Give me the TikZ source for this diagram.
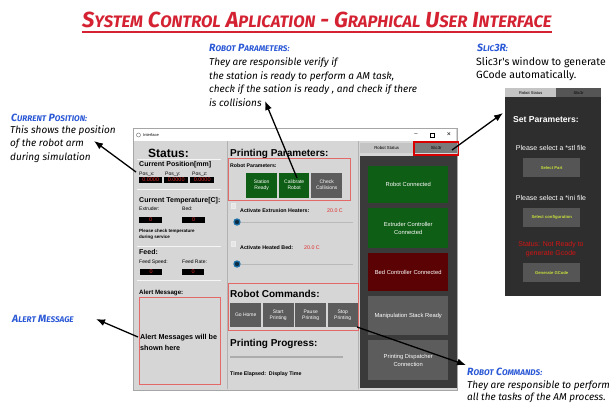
\documentclass[tikz,border=0pt]{standalone}
\usepackage{fontspec}
\setmainfont{Liberation Sans}
\newfontfamily\notefont{Fira Sans}
\usetikzlibrary{arrows.meta}

\definecolor{titlered}{HTML}{D42232}
\definecolor{noteblue}{HTML}{2A58D6}
\definecolor{winbg}{HTML}{D6D6D6}
\definecolor{darkpanel}{HTML}{3A3A3A}
\definecolor{okgreen}{HTML}{0F5E15}
\definecolor{badred}{HTML}{5A0204}
\definecolor{btngray}{HTML}{5C5C5C}
\definecolor{framered}{HTML}{E46868}
\definecolor{valred}{HTML}{E02828}
\definecolor{statusred}{HTML}{D41414}
\definecolor{lime}{HTML}{C8E03C}
\definecolor{slicebg}{HTML}{2E2E2E}
\definecolor{slicebtncol}{HTML}{555555}
\definecolor{tablight}{HTML}{C4C4C4}
\definecolor{tabdark}{HTML}{7A7A7A}
\definecolor{knobblue}{HTML}{1E6FA8}

% small caps built from two sizes
\newcommand\TitleSC[2]{{\fontsize{21.8}{21.8}\selectfont #1}{\fontsize{16.6}{16.6}\selectfont #2}}
\newcommand\NoteSC[2]{{\fontsize{10.5}{10.5}\selectfont #1}{\fontsize{8.2}{8.2}\selectfont #2}}

\tikzset{
  titletext/.style={anchor=base west, inner sep=0, text=titlered, font=\notefont\bfseries\itshape\fontsize{21.8}{21.8}\selectfont},
  notehead/.style={anchor=base west, inner sep=0, text=noteblue, font=\notefont\bfseries\itshape\fontsize{10.5}{10.5}\selectfont},
  noteline/.style={anchor=base west, inner sep=0, font=\notefont\itshape\fontsize{10}{10}\selectfont},
  noteupright/.style={anchor=base west, inner sep=0, font=\notefont\fontsize{10.5}{10.5}\selectfont},
  notearrow/.style={-{Latex[length=9pt,width=7pt]}, line width=1.3pt},
  lbl/.style={anchor=base west, inner sep=0, font=\fontsize{5}{5}\selectfont},
  lblb/.style={anchor=base west, inner sep=0, font=\bfseries\fontsize{5}{5}\selectfont},
  heading/.style={anchor=base west, inner sep=0, font=\bfseries\fontsize{10}{10}\selectfont},
  subheading/.style={anchor=base west, inner sep=0, font=\bfseries\fontsize{7}{7}\selectfont},
  valbox/.style={anchor=north west, inner sep=0, fill=black, text=valred, minimum height=6.5pt, font=\fontsize{5.5}{5.5}\selectfont},
  divline/.style={white!92!gray, line width=0.8pt},
  btn/.style={anchor=north west, inner sep=0, text=white, align=center, font=\fontsize{5}{6}\selectfont},
  bigbtn/.style={btn, minimum width=80pt, font=\fontsize{5.8}{7.5}\selectfont},
  slicebtn/.style={anchor=north west, inner sep=0, fill=slicebtncol, text=lime, minimum width=57pt, minimum height=19pt, font=\bfseries\fontsize{4.2}{5}\selectfont},
  slicetext/.style={anchor=base, inner sep=0, text=white, font=\fontsize{7}{7}\selectfont},
  redframe/.style={draw=framered, line width=0.8pt},
  chkbox/.style={draw=white!85!gray, fill=winbg!60!white, minimum size=4.5pt, inner sep=0},
  knob/.style={circle, draw=knobblue, line width=1.3pt, fill=knobblue!40!black, minimum size=6pt, inner sep=0},
  track/.style={gray!55, line width=1pt},
}

\begin{document}
\begin{tikzpicture}[x=1pt,y=-1pt]
\useasboundingbox (0,0) rectangle (615,404);
\fill[white] (0,0) rectangle (615,404);

% ---------- title ----------
\node[titletext] (title) at (82,28) {\TitleSC{S}{YSTEM} \TitleSC{C}{ONTROL} \TitleSC{A}{PLICATION} - \TitleSC{G}{RAPHICAL} \TitleSC{U}{SER} \TitleSC{I}{NTERFACE}};
\draw[titlered, line width=1.2pt] ([yshift=-4pt]title.base west) -- ([yshift=-4pt]title.base east);

% ---------- main window ----------
\node[draw=gray!70, fill=winbg, minimum width=324pt, minimum height=262pt, anchor=north west, inner sep=0] (win) at (133,128) {};
\node[fill=white, minimum width=322pt, minimum height=12pt, anchor=north west, inner sep=0] (titlebar) at (134,129) {};
\node[circle, draw=gray, line width=0.5pt, minimum size=4pt, inner sep=0] (winicon) at (138.5,135) {};
\node[lbl, font=\fontsize{4}{4}\selectfont] (wintitle) at (143,136.5) {Interface};
\node[inner sep=0, font=\fontsize{6}{6}\selectfont] (wmin) at (416,135) {\textendash};
\node[draw, line width=0.4pt, minimum size=4pt, inner sep=0] (wmax) at (432,135) {};
\node[inner sep=0, font=\fontsize{7}{7}\selectfont] (wclose) at (449,135) {×};

% panel separators
\draw[gray!60, line width=0.8pt] (227,141) -- (227,389);
\draw[gray!60, line width=0.8pt] (358,141) -- (358,389);

% ---------- status column ----------
\node[anchor=base west, inner sep=0, font=\bfseries\fontsize{12}{12}\selectfont] (status) at (148,157) {Status:};
\draw[divline] (137,159.5) -- (221,159.5);
\node[subheading] (curpos) at (139,166) {Current Position[mm]};
\node[lbl] (posxl) at (139,175) {Pos\_x:};
\node[lbl] (posyl) at (165,175) {Pos\_y:};
\node[lbl] (poszl) at (192,175) {Pos\_z:};
\node[valbox, minimum width=23pt] (posx) at (139,176.5) {0.0000};
\node[valbox, minimum width=24pt] (posy) at (164,176.5) {0.0000};
\node[valbox, minimum width=24pt] (posz) at (190,176.5) {0.0000};
\draw[divline] (137,189) -- (221,189);
\node[subheading] (curtemp) at (139,202) {Current Temperature[C]:};
\node[lbl] (extl) at (139,210.5) {Extruder:};
\node[lbl] (bedl) at (182,210.5) {Bed:};
\node[valbox, minimum width=23pt] (extv) at (139,216.5) {0};
\node[valbox, minimum width=23pt] (bedv) at (182,216.5) {0};
\node[lblb, font=\bfseries\fontsize{4.5}{4.5}\selectfont] (chk1l) at (139,232) {Please check temperature};
\node[lblb, font=\bfseries\fontsize{4.5}{4.5}\selectfont] (chk2l) at (139,238.5) {during service};
\draw[divline] (137,246) -- (221,246);
\node[subheading] (feed) at (139,254) {Feed:};
\node[lbl] (fspl) at (139,263) {Feed Speed:};
\node[lbl] (fratel) at (182,263) {Feed Rate:};
\node[valbox, minimum width=22pt] (fspv) at (140,268.5) {0};
\node[valbox, minimum width=22pt] (fratev) at (182,268.5) {0};
\draw[divline] (137,280) -- (221,280);
\node[subheading, font=\bfseries\fontsize{6.2}{6.2}\selectfont] (alertl) at (139,294) {Alert Message:};
\node[redframe, anchor=north west, minimum width=81pt, minimum height=87pt, inner sep=0] (alertbox) at (139,297) {};
\node[anchor=base west, inner sep=0, font=\bfseries\fontsize{7.2}{7.2}\selectfont] (alert1) at (140,339) {Alert Messages will be};
\node[anchor=base west, inner sep=0, font=\bfseries\fontsize{7.2}{7.2}\selectfont] (alert2) at (140,350) {shown here};

% ---------- printing parameters column ----------
\node[heading] (printpar) at (230,156) {Printing Parameters:};
\node[redframe, anchor=north west, minimum width=122pt, minimum height=42pt, inner sep=0] (parframe) at (228,158) {};
\node[lblb, font=\bfseries\fontsize{5.2}{5.2}\selectfont] (robparl) at (230,167) {Robot Parameters:};
\node[btn, fill=okgreen, minimum width=31pt, minimum height=25pt] (stready) at (246,172.5) {Station\\Ready};
\node[btn, fill=okgreen, minimum width=30pt, minimum height=25pt] (calib) at (279,172.5) {Calibrate\\Robot};
\node[btn, fill=btngray, minimum width=31pt, minimum height=25pt] (collide) at (311,172.5) {Check\\Collisions};
\node[chkbox] (chk1) at (233,205.5) {};
\node[lblb, font=\bfseries\fontsize{5.3}{5.3}\selectfont] (extheat) at (240,212) {Activate Extrusion Heaters:};
\node[lbl, text=valred, font=\fontsize{5.3}{5.3}\selectfont] (extheatv) at (327,212) {20.0 C};
\node[knob] (knob1) at (237,222) {};
\coordinate (track1end) at (353,222);
\draw[track] (knob1.east) -- (track1end);
\node[chkbox] (chk2) at (233,243.5) {};
\node[lblb, font=\bfseries\fontsize{5.3}{5.3}\selectfont] (bedheat) at (240,249) {Activate Heated Bed:};
\node[lbl, text=valred, font=\fontsize{5.3}{5.3}\selectfont] (bedheatv) at (304,249) {20.0 C};
\node[knob] (knob2) at (237,264) {};
\coordinate (track2end) at (353,264);
\draw[track] (knob2.east) -- (track2end);

% robot commands
\node[redframe, anchor=north west, minimum width=130pt, minimum height=47pt, inner sep=0] (cmdframe) at (228,283) {};
\node[heading] (robcmd) at (230,297) {Robot Commands:};
\node[btn, fill=btngray, minimum width=31pt, minimum height=24pt] (gohome) at (230,303) {Go Home};
\node[btn, fill=btngray, minimum width=31pt, minimum height=24pt] (startp) at (262.5,303) {Start\\Printing};
\node[btn, fill=btngray, minimum width=31pt, minimum height=24pt] (pausep) at (295,303) {Pause\\Printing};
\node[btn, fill=btngray, minimum width=30pt, minimum height=24pt] (stopp) at (327.5,303) {Stop\\Printing};

% printing progress
\node[heading] (progress) at (230,346) {Printing Progress:};
\coordinate (progA) at (230,357);
\coordinate (progB) at (343,357);
\draw[gray!65, line width=1.3pt] (progA) -- (progB);
\node[lblb, font=\bfseries\fontsize{5.3}{5.3}\selectfont] (elapsed) at (230,375) {Time Elapsed:\ \ Display Time};

% ---------- connection status column ----------
\node[fill=tablight, anchor=north west, minimum width=53pt, minimum height=10pt, inner sep=0, font=\fontsize{4.3}{4.3}\selectfont] (tabstatus) at (360,143) {Robot Status};
\node[fill=tabdark, anchor=north west, minimum width=42pt, minimum height=10pt, inner sep=0, font=\fontsize{4.3}{4.3}\selectfont] (tabslicer) at (415,143) {Slic3r};
\draw[red!85!black, line width=1.5pt] ([shift={(-1.2pt,1.2pt)}]tabslicer.north west) rectangle ([shift={(1.2pt,-1.6pt)}]tabslicer.south east);
\node[fill=darkpanel, anchor=north west, minimum width=97pt, minimum height=232pt, inner sep=0] (statpanel) at (360,156) {};
\node[bigbtn, fill=okgreen, minimum height=37pt] (robconn) at (368,166) {Robot Connected};
\node[bigbtn, fill=okgreen, minimum height=40pt] (extconn) at (368,208) {Extruder Controller\\Connected};
\node[bigbtn, fill=badred, minimum height=38pt] (bedconn) at (368,253) {Bed Controller Connected};
\node[bigbtn, fill=btngray, minimum height=39pt] (manip) at (368,296) {Manipulation Stack Ready};
\node[bigbtn, fill=btngray, minimum height=40pt] (dispatch) at (368,340) {Printing Dispatcher\\Connection};

% ---------- Slic3r window ----------
\node[fill=tablight, anchor=north west, minimum width=51pt, minimum height=9pt, inner sep=0, font=\fontsize{4}{4}\selectfont] (stab1) at (505,88) {Robot Status};
\node[fill=tabdark!70!black, anchor=north west, minimum width=45pt, minimum height=9pt, inner sep=0, font=\fontsize{4}{4}\selectfont] (stab2) at (556,88) {Slic3r};
\node[fill=slicebg, anchor=north west, minimum width=96pt, minimum height=199pt, inner sep=0] (slicewin) at (505,97) {};
\node[anchor=base west, inner sep=0, text=white, font=\bfseries\fontsize{8.6}{8.6}\selectfont] (setpar) at (513,122) {Set Parameters:};
\node[slicetext] (selstl) at (551,150) {Please select a *stl file};
\node[slicebtn] (selpart) at (523,158) {Select Part};
\node[slicetext] (selini) at (551,200) {Please select a *ini file};
\node[slicebtn] (selconf) at (523,207.5) {Select configuration};
\node[slicetext, text=statusred] (notready1) at (551,246) {Status: Not Ready to};
\node[slicetext, text=statusred] (notready2) at (551,255) {generate Gcode};
\node[slicebtn] (gengc) at (523,263) {Generate GCode};

% ---------- notes ----------
\node[notehead] (posnoteh) at (11,121) {\NoteSC{C}{URRENT} \NoteSC{P}{OSITION:}};
\node[noteline] (posnote1) at (10,133) {This shows the position};
\node[noteline] (posnote2) at (10,146.5) {of the robot arm};
\node[noteline] (posnote3) at (10,160) {during simulation};

\node[notehead] (alertnote) at (12,322) {\NoteSC{A}{LERT} \NoteSC{M}{ESSAGE}};

\node[notehead] (parnoteh) at (209,52) {\NoteSC{R}{OBOT} \NoteSC{P}{ARAMETERS:}};
\node[noteline] (parnote1) at (209,65.5) {They are responsible verify if};
\node[noteline] (parnote2) at (209,79) {the station is ready to perform a AM task,};
\node[noteline] (parnote3) at (209,92.5) {check if the sation is ready , and check if there};
\node[noteline] (parnote4) at (209,106) {is collisions};

\node[notehead] (slicenoteh) at (477,52) {\NoteSC{S}{LIC}3\NoteSC{R}{:}};
\node[noteupright] (slicenote1) at (476,65) {Slic3r's window to generate};
\node[noteupright] (slicenote2) at (476,78) {GCode automatically.};

\node[notehead] (cmdnoteh) at (467,375) {\NoteSC{R}{OBOT} \NoteSC{C}{OMMANDS:}};
\node[noteline] (cmdnote1) at (467,388) {They are responsible to perform};
\node[noteline] (cmdnote2) at (467,400) {all the tasks of the AM process.};

% ---------- pointer arrows ----------
\coordinate (posfrom) at (136,172);
\coordinate (posto) at (94,141);
\draw[notearrow] (posfrom) -- (posto);

\coordinate (alertfrom) at (138,337);
\coordinate (alertto) at (96,319);
\draw[notearrow] (alertfrom) -- (alertto);

\coordinate (parfrom) at (297,178);
\coordinate (parto) at (265,101);
\draw[notearrow] (parfrom) -- (parto);

\coordinate (slicefrom) at (452,150);
\coordinate (sliceto) at (503,113);
\draw[notearrow] (slicefrom) -- (sliceto);

\coordinate (cmdfrom) at (357,327);
\coordinate (cmdto) at (466,365);
\draw[notearrow] (cmdfrom) -- (cmdto);
\end{tikzpicture}
\end{document}
